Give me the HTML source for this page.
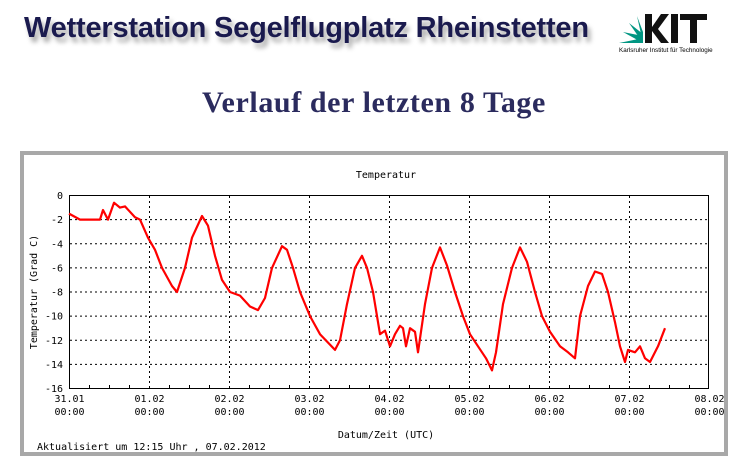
<!DOCTYPE html>
<html><head><meta charset="utf-8"><style>
body{margin:0;background:#fff;width:738px;height:464px;overflow:hidden;position:relative;font-family:"Liberation Sans",sans-serif}
.h1{position:absolute;left:24px;top:12px;font-size:29px;font-weight:bold;color:#1a1a4e;text-shadow:3px 5px 5px #aaa;letter-spacing:-0.2px}
.h2{position:absolute;left:0;width:748px;text-align:center;top:86px;font-family:"Liberation Serif",serif;font-size:30px;font-weight:bold;color:#2b2b5e;letter-spacing:0.6px}
svg text{font-family:"DejaVu Sans Mono","Liberation Mono",monospace;font-size:10px;fill:#000}
</style></head><body>
<div class="h1">Wetterstation Segelflugplatz Rheinstetten</div>
<div style="position:absolute;left:617px;top:10px;width:100px;height:46px">
<svg width="100" height="46" viewBox="0 0 100 46">
<g fill="#009682">
<polygon points="2,33 26,33 26,28"/><polygon points="6,22 26,33 26,26"/><polygon points="12,13 26,33 26,24"/><polygon points="20,6 26,33 26,22"/>
</g>
<polygon points="28,4 35,4 35,17 44,4 52,4 41,19 52,33 44,33 35,21 35,33 28,33" fill="#111"/>
<rect x="54" y="4" width="7" height="29" fill="#111"/>
<polygon points="63,4 90,4 90,10 80,10 80,33 73,33 73,10 63,10" fill="#111"/>
<text x="2" y="42" style="font-family:'Liberation Sans',sans-serif;font-size:6.3px">Karlsruher Institut für Technologie</text>
</svg></div>
<div class="h2">Verlauf der letzten 8 Tage</div>
<svg width="738" height="464" style="position:absolute;left:0;top:0">
<rect x="22" y="153" width="704" height="301" fill="none" stroke="#a8a8a8" stroke-width="4"/>
<text x="386" y="178" text-anchor="middle">Temperatur</text>
<g id="grid" stroke="#000" stroke-width="1" stroke-dasharray="2,3"></g>
<rect x="69.5" y="195.5" width="639" height="193" fill="none" stroke="#000"/>
<g id="lab"></g>
<text x="386" y="438" text-anchor="middle">Datum/Zeit (UTC)</text>
<text x="37" y="450">Aktualisiert um 12:15 Uhr , 07.02.2012</text>
<text transform="translate(37,292) rotate(-90)" text-anchor="middle">Temperatur (Grad C)</text>
<polyline id="ln" fill="none" stroke="#f00" stroke-width="2.2" stroke-linejoin="round"/>
</svg>
<script>
var g=document.getElementById('grid'),lab=document.getElementById('lab'),ns='http://www.w3.org/2000/svg';
function el(p,t,a,tx){var e=document.createElementNS(ns,t);for(var k in a)e.setAttribute(k,a[k]);if(tx)e.textContent=tx;p.appendChild(e);return e;}
for(var i=1;i<8;i++){var y=195.5+i*193/8;el(g,'line',{x1:70,x2:708,y1:y,y2:y});}
var d=['31.01','01.02','02.02','03.02','04.02','05.02','06.02','07.02','08.02'];
for(var i=0;i<=8;i++){var x=69.5+i*80;if(i>0&&i<8)el(g,'line',{x1:x,x2:x,y1:196,y2:388});
el(lab,'text',{x:x,y:402,'text-anchor':'middle'},d[i]);el(lab,'text',{x:x,y:415,'text-anchor':'middle'},'00:00');
for(var j=1;j<4&&i<8;j++){var xx=x+j*20;el(lab,'line',{x1:xx,x2:xx,y1:388,y2:385,stroke:'#000'});}}
for(var i=0;i<=8;i++){el(lab,'text',{x:63,y:199+i*193/8,'text-anchor':'end'},i==0?'0':'-'+(2*i));}
var p=[[69,-1.5],[80,-2],[100,-2],[103,-1.2],[108,-2],[114,-0.6],[120,-1],[125,-0.9],[135,-1.8],[140,-2],[148,-3.5],[155,-4.5],[162,-6],[172,-7.5],[177,-8],[185,-6],[192,-3.5],[202,-1.7],[208,-2.5],[215,-5],[222,-7],[230,-8],[240,-8.3],[250,-9.2],[258,-9.5],[265,-8.5],[272,-6],[282,-4.2],[287,-4.5],[293,-6],[300,-8],[310,-10],[320,-11.5],[335,-12.8],[340,-12],[347,-9],[355,-6],[362,-5],[367,-6],[373,-8],[377,-10],[380,-11.5],[385,-11.2],[390,-12.5],[395,-11.5],[400,-10.8],[403,-11],[406,-12.5],[410,-11],[415,-11.3],[418,-13],[425,-9],[432,-6],[440,-4.3],[447,-5.8],[455,-8],[463,-10],[470,-11.5],[478,-12.5],[486,-13.5],[492,-14.5],[496,-13],[503,-9],[512,-6],[520,-4.3],[527,-5.5],[535,-8],[542,-10],[550,-11.3],[560,-12.5],[568,-13],[575,-13.5],[580,-10],[588,-7.5],[595,-6.3],[602,-6.5],[608,-8],[615,-10.5],[620,-12.5],[625,-13.8],[628,-12.8],[635,-13],[640,-12.5],[645,-13.5],[650,-13.8],[658,-12.5],[665,-11]];
document.getElementById('ln').setAttribute('points',p.map(function(q){return q[0]+','+(195.5-q[1]*193/16).toFixed(1)}).join(' '));
</script>
</body></html>
